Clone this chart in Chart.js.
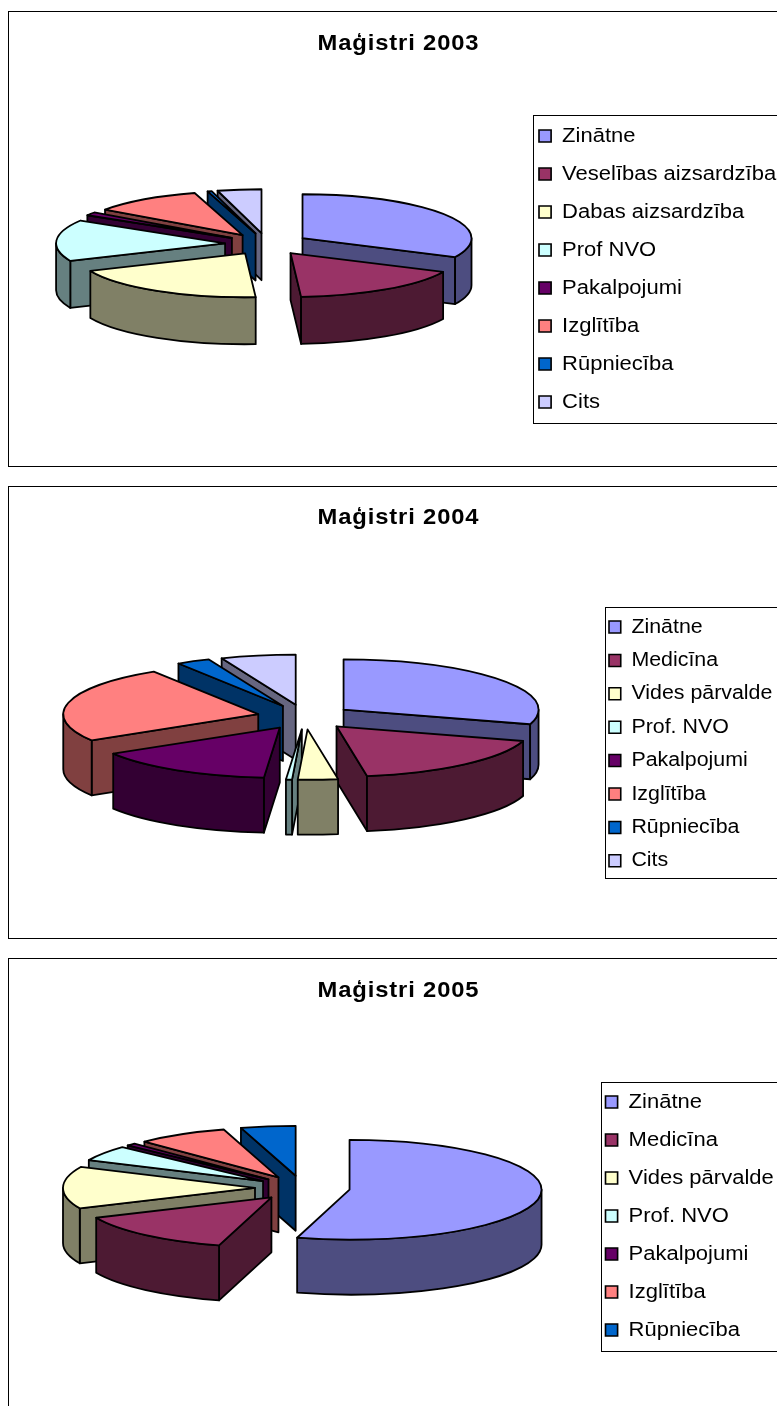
<!DOCTYPE html>
<html>
<head>
<meta charset="utf-8">
<style>
html,body{margin:0;padding:0;background:#fff;width:777px;height:1406px;overflow:hidden}
canvas{position:absolute;left:0;display:block}
</style>
<script src="https://cdn.jsdelivr.net/npm/chart.js@4/dist/chart.umd.js"></script>
</head>
<body>
<canvas id="c1" style="top:11px" width="797" height="456"></canvas>
<canvas id="c2" style="top:486px" width="797" height="453"></canvas>
<canvas id="c3" style="top:958px" width="797" height="456"></canvas>
<script>
const labels2003 = ["Zinātne","Veselības aizsardzība","Dabas aizsardzība","Prof NVO","Pakalpojumi","Izglītība","Rūpniecība","Cits"];
const values2003 = [32.2,17.0,19.5,15.3,1.2,10.6,0.4,4.2];
const labels2004 = ["Zinātne","Medicīna","Vides pārvalde","Prof. NVO","Pakalpojumi","Izglītība","Rūpniecība","Cits"];
const values2004 = [29.7,17.8,3.3,0.5,15.0,24.7,2.8,6.2];
const labels2005 = ["Zinātne","Medicīna","Vides pārvalde","Prof. NVO","Pakalpojumi","Izglītība","Rūpniecība"];
const values2005 = [54.4,13.9,13.6,5.0,0.8,7.7,4.6];
const topColors = ["#9999FF","#993366","#FFFFCC","#CCFFFF","#660066","#FF8080","#0066CC","#CCCCFF"];
const sideColors = ["#4D4D80","#4D1A33","#808066","#668080","#330033","#804040","#003366","#666680"];
const LINE = 1.8;

const pie3d = {
  id:"pie3d",
  afterLayout(chart,args,o){
    chart.chartArea = {left:o.cx-o.r,right:o.cx+o.r,top:o.cy-o.r,bottom:o.cy+o.r,width:2*o.r,height:2*o.r};
    const lg = chart.legend, pad = lg.options.labels.padding;
    const w = lg.right-lg.left, h = lg.bottom-lg.top;
    lg.left = o.legendX - pad; lg.right = lg.left+w;
    lg.top = o.legendY; lg.bottom = lg.top+h;
    if (!chart.$wrapped){
      chart.$wrapped = true;
      const c = chart.ctx;
      const stretch = (box,x,sx,ls)=>{
        const orig = box.draw;
        box.draw = function(a){
          c.save();
          if (ls) c.letterSpacing = ls+"px";
          c.translate(x,0); c.scale(sx,1); c.translate(-x,0);
          orig.call(this,a);
          c.restore();
        };
      };
      stretch(lg,o.legendX,o.legendSx,0);
      stretch(chart.titleBlock,chart.width/2,1.08,0.8);
    }
  },
  afterDatasetsUpdate(chart,args,o){
    chart.getDatasetMeta(0).data.forEach(a=>{
      const mid=(a.startAngle+a.endAngle)/2;
      a.x += Math.cos(mid)*o.explode;
      a.y += Math.sin(mid)*o.explode;
    });
  },
  beforeDraw(chart,args,o){
    const c = chart.ctx;
    c.save();
    c.strokeStyle="#000"; c.lineWidth=1;
    c.strokeRect(8.5,0.5,790,chart.height-1);
    c.strokeRect(o.boxLeft+0.5,o.boxTop+0.5,300,o.boxH);
    c.restore();
  },
  beforeDatasetsDraw(chart,args,o){
    const c = chart.ctx, arcs = chart.getDatasetMeta(0).data;
    const info = arcs.map((a,i)=>{
      const mid = (a.startAngle+a.endAngle)/2;
      const ay = o.cy+o.k*(a.y-o.cy);
      return {i,ax:a.x,ay,a0:a.startAngle,a1:a.endAngle,r:a.outerRadius,key:ay+o.k*a.outerRadius*0.6*Math.sin(mid)};
    });
    chart.$pieInfo = info;
    const d = o.depth, k=o.k;
    c.save();
    c.lineWidth=LINE; c.strokeStyle="#000"; c.lineJoin="round";
    info.slice().sort((a,b)=>a.key-b.key).forEach(s=>{
      c.fillStyle = sideColors[s.i];
      const face = ang=>{
        const px=s.ax+Math.cos(ang)*s.r, py=s.ay+k*Math.sin(ang)*s.r;
        c.beginPath(); c.moveTo(s.ax,s.ay); c.lineTo(px,py); c.lineTo(px,py+d); c.lineTo(s.ax,s.ay+d); c.closePath(); c.fill(); c.stroke();
      };
      if (Math.sin(s.a0-Math.PI/2)>0) face(s.a0);
      if (Math.sin(s.a1+Math.PI/2)>0) face(s.a1);
      const lo=Math.max(s.a0,0), hi=Math.min(s.a1,Math.PI);
      if (hi>lo){
        c.beginPath();
        c.ellipse(s.ax,s.ay,s.r,k*s.r,0,lo,hi);
        c.ellipse(s.ax,s.ay+d,s.r,k*s.r,0,hi,lo,true);
        c.closePath(); c.fill(); c.stroke();
      }
    });
    c.restore();
    c.save();
    c.translate(0,o.cy); c.scale(1,k); c.translate(0,-o.cy);
  },
  afterDatasetsDraw(chart,args,o){
    const c = chart.ctx;
    c.restore();
    c.save();
    c.lineWidth=LINE; c.strokeStyle="#000"; c.lineJoin="round";
    chart.$pieInfo.forEach(s=>{
      c.beginPath();
      c.moveTo(s.ax,s.ay);
      c.ellipse(s.ax,s.ay,s.r,o.k*s.r,0,s.a0,s.a1);
      c.closePath(); c.stroke();
    });
    c.restore();
  }
};

function makeChart(id,title,labels,values,opts,rowPad){
  return new Chart(document.getElementById(id),{
    type:"pie",
    data:{labels:labels,datasets:[{data:values,backgroundColor:topColors.slice(0,values.length),borderWidth:0,radius:opts.r,clip:false}]},
    plugins:[pie3d],
    options:{
      responsive:false,animation:false,events:[],
      plugins:{
        pie3d:opts,
        tooltip:{enabled:false},
        title:{display:true,text:title,color:"#000",padding:{top:opts.titleTop,bottom:0},font:{family:"Liberation Sans",size:22,weight:"bold"}},
        legend:{position:"right",align:"start",labels:{
          padding:rowPad,boxWidth:11,boxHeight:12,color:"#000",
          font:{family:"Liberation Sans",size:20},
          generateLabels:ch=>ch.data.labels.map((t,i)=>({text:t,fillStyle:topColors[i],strokeStyle:"#000",lineWidth:1.5,hidden:false,index:i}))
        }}
      }
    }
  });
}
makeChart("c1","Maģistri 2003",labels2003,values2003,
  {explode:42,cx:267,cy:233,r:169,k:0.26,depth:47,legendX:539,legendSx:1.1,legendY:97,boxLeft:533,boxTop:104,boxH:308,titleTop:20},18);
makeChart("c2","Maģistri 2004",labels2004,values2004,
  {explode:48,cx:305,cy:231,r:195,k:0.258,depth:55,legendX:609,legendSx:1.068,legendY:117.6,boxLeft:605,boxTop:121,boxH:271,titleTop:19},13.4);
makeChart("c3","Maģistri 2005",labels2005,values2005,
  {explode:47.5,cx:302.5,cy:230,r:192,k:0.26,depth:55,legendX:605.5,legendSx:1.1,legendY:116,boxLeft:601,boxTop:124,boxH:269,titleTop:20},18);
</script>
</body>
</html>
